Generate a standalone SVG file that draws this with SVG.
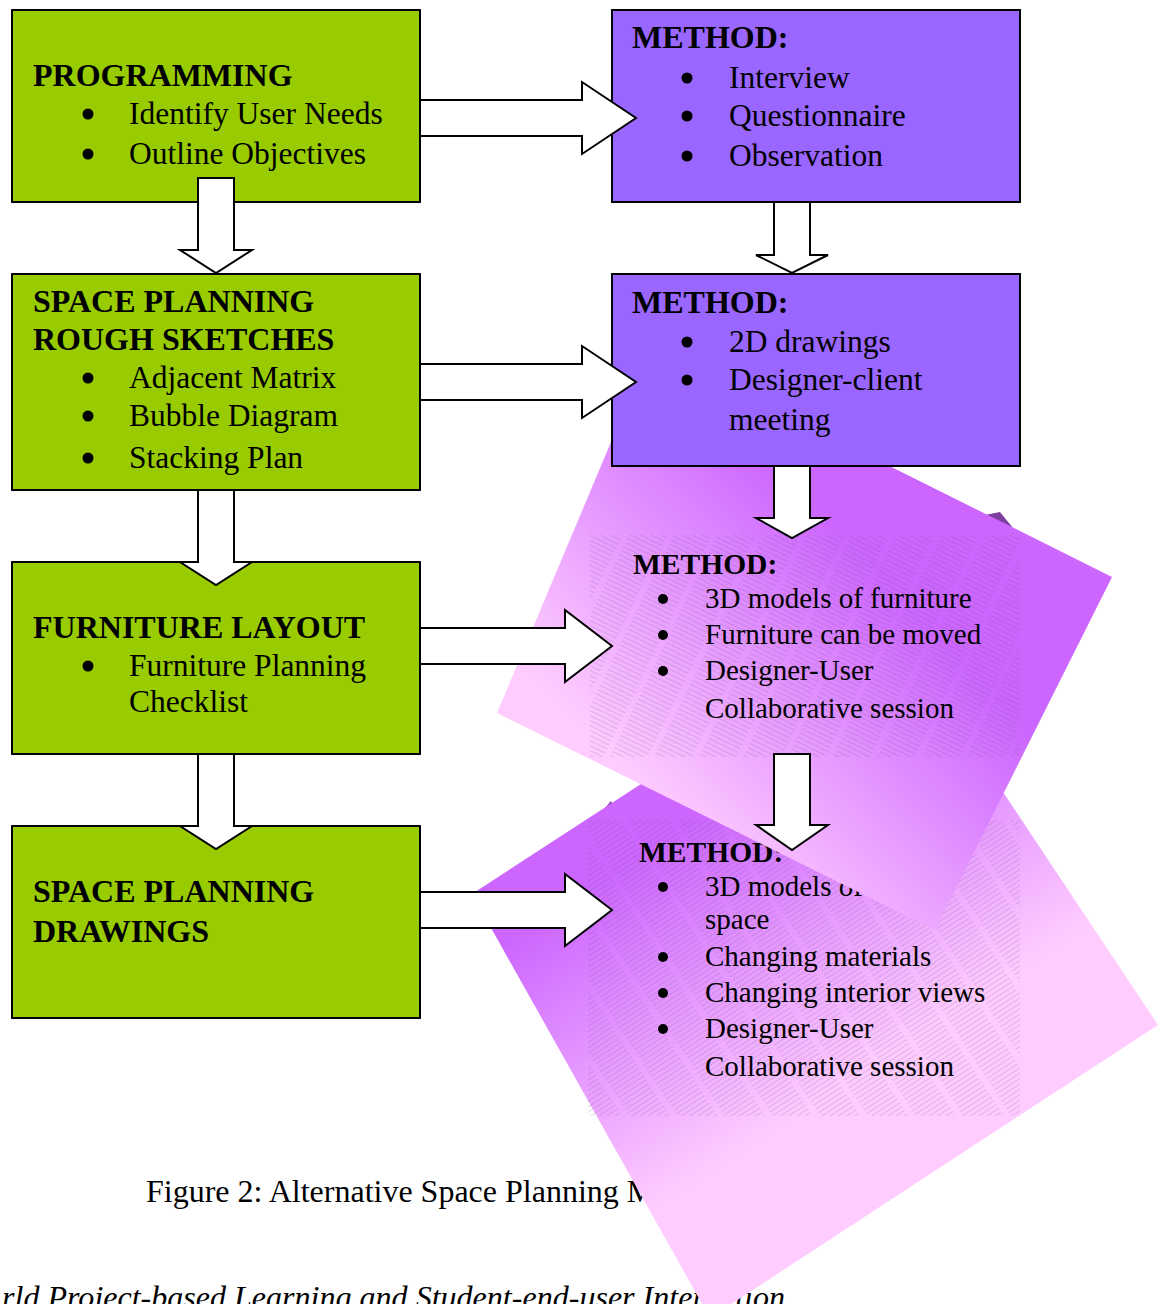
<svg xmlns="http://www.w3.org/2000/svg" width="1160" height="1304" viewBox="0 0 1160 1304">
<defs>
<style>
.gbox{fill:#99CC00;stroke:#000;stroke-width:2}
.pbox{fill:#9966FF;stroke:#000;stroke-width:2}
.arrow{fill:#fff;stroke:#000;stroke-width:2;stroke-linejoin:miter}
.h{font-family:"Liberation Serif","Times New Roman",serif;font-weight:bold;font-size:32px;fill:#000}
.t{font-family:"Liberation Serif","Times New Roman",serif;font-size:31.5px;fill:#000}
.hp{font-family:"Liberation Serif","Times New Roman",serif;font-weight:bold;font-size:29.5px;fill:#000}
.tp{font-family:"Liberation Serif","Times New Roman",serif;font-size:29px;fill:#000}
.cap{font-family:"Liberation Serif","Times New Roman",serif;font-size:32px;fill:#000}
.it{font-family:"Liberation Serif","Times New Roman",serif;font-style:italic;font-size:32px;fill:#000}
.shadow{fill:#7F3FA0}
</style>
<linearGradient id="g1" gradientUnits="userSpaceOnUse" x1="1000" y1="520" x2="640" y2="860">
<stop offset="0" stop-color="#CC66FF"/>
<stop offset="0.25" stop-color="#CC66FF"/>
<stop offset="0.9" stop-color="#FFCCFF"/>
</linearGradient>
<linearGradient id="g2" gradientUnits="userSpaceOnUse" x1="600" y1="810" x2="863" y2="1216">
<stop offset="0" stop-color="#CC66FF"/>
<stop offset="0.12" stop-color="#CC66FF"/>
<stop offset="0.75" stop-color="#FFCCFF"/>
</linearGradient>
<pattern id="hatch1" patternUnits="userSpaceOnUse" width="40" height="4.5" patternTransform="rotate(26)">
<line x1="0" y1="2" x2="34" y2="2" stroke="#6a4a7a" stroke-width="0.5" stroke-opacity="0.45"/>
</pattern>
<pattern id="hatch2" patternUnits="userSpaceOnUse" width="40" height="4.5" patternTransform="rotate(-33)">
<line x1="0" y1="2" x2="34" y2="2" stroke="#6a4a7a" stroke-width="0.5" stroke-opacity="0.45"/>
</pattern>
</defs>

<rect width="1160" height="1304" fill="#fff"/>

<g id="caption">
<text class="cap" x="146" y="1202">Figure 2: Alternative Space Planning M</text>
<text class="it" x="2" y="1308" textLength="783" lengthAdjust="spacingAndGlyphs">rld Project-based Learning and Student-end-user Interaction</text>
</g>

<g id="programming">
<rect class="gbox" x="12" y="10" width="408" height="192"/>
<text class="h" x="33" y="86">PROGRAMMING</text>
<circle cx="88" cy="114" r="5.5"/>
<text class="t" x="129" y="124">Identify User Needs</text>
<circle cx="88" cy="154" r="5.5"/>
<text class="t" x="129" y="164">Outline Objectives</text>
</g>

<g id="rough-sketches">
<rect class="gbox" x="12" y="274" width="408" height="216"/>
<text class="h" x="33" y="312">SPACE PLANNING</text>
<text class="h" x="33" y="350">ROUGH SKETCHES</text>
<circle cx="88" cy="378" r="5.5"/>
<text class="t" x="129" y="388">Adjacent Matrix</text>
<circle cx="88" cy="416" r="5.5"/>
<text class="t" x="129" y="426">Bubble Diagram</text>
<circle cx="88" cy="458" r="5.5"/>
<text class="t" x="129" y="468">Stacking Plan</text>
</g>

<g id="furniture-layout">
<rect class="gbox" x="12" y="562" width="408" height="192"/>
<text class="h" x="33" y="638">FURNITURE LAYOUT</text>
<circle cx="88" cy="666" r="5.5"/>
<text class="t" x="129" y="676">Furniture Planning</text>
<text class="t" x="129" y="712">Checklist</text>
</g>

<g id="drawings">
<rect class="gbox" x="12" y="826" width="408" height="192"/>
<text class="h" x="33" y="902">SPACE PLANNING</text>
<text class="h" x="33" y="942">DRAWINGS</text>
</g>

<g id="method4">
<polygon class="shadow" points="600,814 611,801 616,810"/>
<polygon points="890,622 1158,1025 710,1318 472,894" fill="url(#g2)"/>
<rect x="588" y="820" width="432" height="296" fill="url(#hatch2)"/>
<text class="hp" x="639" y="862">METHOD:</text>
<circle cx="663" cy="887" r="5"/>
<text class="tp" x="705" y="896">3D models of</text>
<text class="tp" x="705" y="929">space</text>
<circle cx="663" cy="957" r="5"/>
<text class="tp" x="705" y="966">Changing materials</text>
<circle cx="663" cy="993" r="5"/>
<text class="tp" x="705" y="1002">Changing interior views</text>
<circle cx="663" cy="1029" r="5"/>
<text class="tp" x="705" y="1038">Designer-User</text>
<text class="tp" x="705" y="1076">Collaborative session</text>
</g>

<g id="method3">
<polygon class="shadow" points="985,515 1000,512 1013,528"/>
<polygon points="651,347 1112,577 935,930 497,713" fill="url(#g1)"/>
<rect x="590" y="535" width="430" height="222" fill="url(#hatch1)"/>
<text class="hp" x="633" y="574">METHOD:</text>
<circle cx="663" cy="599" r="5"/>
<text class="tp" x="705" y="608">3D models of furniture</text>
<circle cx="663" cy="635" r="5"/>
<text class="tp" x="705" y="644">Furniture can be moved</text>
<circle cx="663" cy="671" r="5"/>
<text class="tp" x="705" y="680">Designer-User</text>
<text class="tp" x="705" y="718">Collaborative session</text>
</g>

<g id="method1">
<rect class="pbox" x="612" y="10" width="408" height="192"/>
<text class="h" x="632" y="48">METHOD:</text>
<circle cx="687" cy="78" r="5.5"/>
<text class="t" x="729" y="88">Interview</text>
<circle cx="687" cy="116" r="5.5"/>
<text class="t" x="729" y="126">Questionnaire</text>
<circle cx="687" cy="156" r="5.5"/>
<text class="t" x="729" y="166">Observation</text>
</g>

<g id="method2">
<rect class="pbox" x="612" y="274" width="408" height="192"/>
<text class="h" x="632" y="313">METHOD:</text>
<circle cx="687" cy="342" r="5.5"/>
<text class="t" x="729" y="352">2D drawings</text>
<circle cx="687" cy="380" r="5.5"/>
<text class="t" x="729" y="390">Designer-client</text>
<text class="t" x="729" y="430">meeting</text>
</g>

<g id="connectors">
<polygon class="arrow" points="420,100 582,100 582,82 636,118 582,154 582,136 420,136"/>
<polygon class="arrow" points="420,364 582,364 582,346 636,382 582,418 582,400 420,400"/>
<polygon class="arrow" points="420,628 565,628 565,610 612,646 565,682 565,664 420,664"/>
<polygon class="arrow" points="420,892 565,892 565,874 612,910 565,946 565,928 420,928"/>
<polygon class="arrow" points="198,178 234,178 234,250 252,250 216,273 180,250 198,250"/>
<polygon class="arrow" points="198,490 234,490 234,562 252,562 216,585 180,562 198,562"/>
<polygon class="arrow" points="198,754 234,754 234,826 252,826 216,849 180,826 198,826"/>
<polygon class="arrow" points="774,202 810,202 810,255 828,255 792,273 756,255 774,255"/>
<polygon class="arrow" points="774,466 810,466 810,518 828,518 792,538 756,518 774,518"/>
<polygon class="arrow" points="774,754 810,754 810,825 828,825 792,850 756,825 774,825"/>
</g>
</svg>
